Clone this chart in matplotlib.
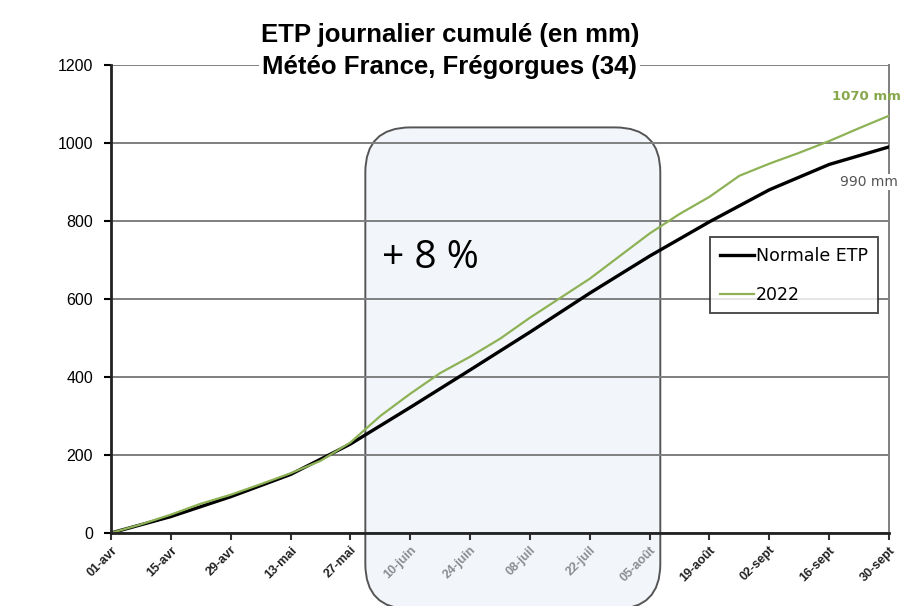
#!/usr/bin/env python3
"""
Cumulative daily ETP chart (Météo France, Frégorgues)
"""

import numpy as np
import matplotlib
matplotlib.use("Agg")
import matplotlib.pyplot as plt
from matplotlib.patches import FancyBboxPatch

# tick dates, every 14 days from 01-avr (day 0) to 30-sept (day 182)
tick_labels = ['01-avr', '15-avr', '29-avr', '13-mai', '27-mai', '10-juin', '24-juin',
               '08-juil', '22-juil', '05-août', '19-août', '02-sept', '16-sept', '30-sept']
tick_days = [0, 14, 28, 42, 56, 70, 84, 98, 112, 126, 140, 154, 168, 182]

# normal ETP, read at each tick
normale_days = tick_days
normale_etp = [0, 42, 93, 150, 228, 322, 418, 515, 615, 710, 798, 880, 945, 990]

# 2022, read weekly
etp2022_days = [0, 7, 14, 21, 28, 35, 42, 49, 56, 63, 70, 77, 84, 91, 98, 105, 112,
                119, 126, 133, 140, 147, 154, 161, 168, 175, 182]
etp2022 = [0, 22, 47, 75, 98, 125, 153, 185, 232, 300, 357, 410, 452, 498, 552, 602,
           652, 710, 768, 818, 862, 916, 947, 975, 1005, 1038, 1070]

# shaded period (days) and its label
period_start, period_end = 59.5, 128.5
period_label = '+ 8 %'

GREEN = '#8DB255'
GRID = '#7F7F7F'

fig = plt.figure(figsize=(9.03, 6.06), dpi=100)
ax = fig.add_axes([0.1229, 0.1205, 0.8616, 0.7722])
ax.set_facecolor('none')

ax.plot(normale_days, normale_etp, color='black', lw=2.4, label='Normale ETP', zorder=4)
ax.plot(etp2022_days, etp2022, color=GREEN, lw=1.6, label='2022', zorder=5)

ax.set_xlim(0, 182)
ax.set_ylim(0, 1200)
ax.set_yticks(np.arange(0, 1201, 200))
ax.set_xticks(tick_days)
ax.set_xticklabels(tick_labels, rotation=45, ha='right', rotation_mode='anchor',
                   fontsize=9, fontweight='bold', color='#222222',
                   family=['Liberation Sans', 'DejaVu Sans'])
for lab in ax.get_yticklabels():
    lab.set_family(['Liberation Sans', 'DejaVu Sans'])
ax.tick_params(axis='y', labelsize=11.5, length=5, width=1.5, pad=8)
ax.tick_params(axis='x', length=5, width=1.5, pad=3, color='#333333')

ax.yaxis.grid(True, color=GRID, lw=1.4, zorder=1)
ax.set_axisbelow(True)

for side in ['left', 'bottom']:
    ax.spines[side].set_linewidth(2)
    ax.spines[side].set_color('#222222')
    ax.spines[side].set_zorder(6)
ax.spines['top'].set_visible(False)
ax.spines['right'].set_color(GRID)
ax.spines['right'].set_linewidth(1.4)

# rounded highlight box, behind the plot; its bottom edge sits just under the figure
fig.canvas.draw()
x0 = ax.transData.transform((period_start, 0))[0]
x1 = ax.transData.transform((period_end, 0))[0]
ytop = ax.transData.transform((0, 1040))[1]
ybot = -3
r = 45
box = FancyBboxPatch((x0 + r, ybot + r), (x1 - x0) - 2 * r, (ytop - ybot) - 2 * r,
                     boxstyle=f'round,pad={r}', transform=None,
                     facecolor='#F2F6FA', edgecolor='#555555', lw=1.4, zorder=-1)
fig.patches.append(box)

# labels inside the box look faded
for d, lab in zip(tick_days, ax.get_xticklabels()):
    if period_start < d < period_end:
        lab.set_color('#8A8C90')

ax.text(63.5, 705, period_label, fontsize=28, color='black', va='center', ha='left',
        family=['Open Sans', 'DejaVu Sans'], zorder=7)

# end-of-series annotations
ax.text(184.8, etp2022[-1] + 50, '1070 mm', color='#86A84B', fontsize=9.5,
        fontweight='bold', ha='right', va='center', zorder=7, clip_on=False)
ax.text(170.5, 900, '990 mm', color='#555555', fontsize=10, ha='left', va='center',
        zorder=7, clip_on=False,
        bbox=dict(facecolor='white', edgecolor='none', pad=1))

leg = ax.legend(loc='upper left', bbox_to_anchor=(0.77, 0.632), frameon=True,
                fancybox=False, fontsize=12.5, handlelength=2.0, handletextpad=0.1,
                labelspacing=1.2, borderpad=0.55, borderaxespad=0)
leg.get_frame().set_edgecolor('#222222')
leg.get_frame().set_linewidth(1.4)
leg.set_zorder(8)

# title; second line sits on the 1200 gridline with a white background
title_font = ['Liberation Sans', 'DejaVu Sans']
fig.text(0.498, 0.942, 'ETP journalier cumulé (en mm)', ha='center', va='center',
         fontsize=18.5, fontweight='bold', family=title_font)
fig.text(0.498, 0.889, 'Météo France, Frégorgues (34)', ha='center', va='center',
         fontsize=18.5, fontweight='bold', family=title_font, zorder=10,
         bbox=dict(facecolor='white', edgecolor='none', pad=2))

fig.savefig('out.png', dpi=100)
